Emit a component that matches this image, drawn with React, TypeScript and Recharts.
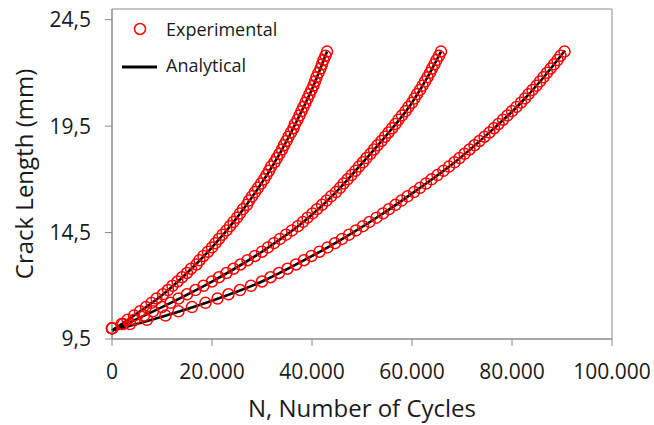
import { ComposedChart, Line, Scatter, XAxis, YAxis, ReferenceArea, Legend } from "recharts";

// measured crack lengths (mm), same increments for the three specimens
const crackExp = [
  10, 10.2, 10.4, 10.6, 10.8, 11, 11.2, 11.4, 11.6, 11.8, 12, 12.2, 12.4, 12.6, 12.8, 13, 13.2, 13.4, 13.6, 13.8,
  14, 14.2, 14.4, 14.6, 14.8, 15, 15.2, 15.4, 15.6, 15.8, 16, 16.2, 16.4, 16.6, 16.8, 17, 17.2, 17.4, 17.6, 17.8,
  18, 18.2, 18.4, 18.6, 18.8, 19, 19.2, 19.4, 19.6, 19.8, 20, 20.2, 20.4, 20.6, 20.8, 21, 21.2, 21.4, 21.6, 21.8,
  22, 22.2, 22.4, 22.6, 22.8, 23,
];

const cyclesExp1 = [
  0, 1900, 3100, 4400, 5600, 6800, 7900, 8900, 10200, 11200, 12100, 13100, 14000, 15000, 15800, 16900, 17500, 18300,
  19200, 20000, 20700, 21400, 22100, 22900, 23600, 24300, 25000, 25600, 26200, 27000, 27400, 28000, 28600, 29200,
  29800, 30400, 30900, 31400, 31800, 32500, 33000, 33500, 34000, 34400, 34900, 35300, 35800, 36300, 36600, 37100,
  37500, 37900, 38300, 38700, 39100, 39500, 39900, 40300, 40600, 40900, 41300, 41700, 42000, 42300, 42700, 43000,
];

const cyclesExp2 = [
  0, 2200, 4500, 6400, 8200, 10000, 11700, 13300, 15000, 16700, 18300, 20000, 21400, 22900, 24300, 25700, 27100, 28600,
  30000, 31200, 32400, 33600, 34800, 36000, 37200, 38200, 39100, 40100, 41000, 42000, 42900, 43800, 44800, 45600,
  46300, 47100, 47900, 48700, 49400, 50200, 50900, 51700, 52400, 53100, 53900, 54600, 55300, 56000, 56700, 57300,
  58000, 58700, 59300, 60000, 60500, 61000, 61600, 62100, 62600, 63100, 63600, 64000, 64500, 64900, 65400, 65800,
];

const cyclesExp3 = [
  0, 3600, 7000, 10700, 13300, 16000, 18700, 21100, 23300, 25600, 27800, 30000, 31700, 33400, 35100, 36800, 38400,
  39900, 41500, 43100, 44600, 46000, 47400, 48800, 50200, 51500, 52900, 54200, 55400, 56700, 57900, 59100, 60400,
  61600, 62800, 63900, 65100, 66300, 67400, 68500, 69500, 70500, 71500, 72500, 73500, 74500, 75500, 76400, 77300,
  78200, 79100, 80000, 80900, 81800, 82600, 83300, 84100, 84900, 85600, 86300, 87000, 87700, 88400, 89100, 89700, 90500,
];

// analytical predictions
const cyclesFit1 = [0, 5000, 10000, 15000, 20000, 25000, 30000, 34000, 37500, 40300, 43000];
const crackFit1 = [9.9, 10.7, 11.55, 12.6, 13.8, 15.2, 16.85, 18.4, 20.0, 21.4, 23.0];

const cyclesFit2 = [0, 10000, 20000, 30000, 37500, 45000, 50000, 55000, 60000, 63000, 65800];
const crackFit2 = [9.9, 11.0, 12.2, 13.6, 14.85, 16.45, 17.75, 19.1, 20.6, 21.75, 23.0];

const cyclesFit3 = [0, 10000, 20000, 30000, 37600, 45000, 53600, 61600, 68300, 75000, 81600, 86000, 90600];
const crackFit3 = [9.9, 10.55, 11.3, 12.2, 13.1, 14.05, 15.3, 16.6, 17.75, 19.1, 20.55, 21.7, 23.05];

const xTicks = [0, 20000, 40000, 60000, 80000, 100000];
const yTicks = [9.5, 14.5, 19.5, 24.5];

const toPoints = (xs: number[], ys: number[]) => xs.map((x, i) => ({ x, y: ys[i] }));

const exp1 = toPoints(cyclesExp1, crackExp);
const exp2 = toPoints(cyclesExp2, crackExp);
const exp3 = toPoints(cyclesExp3, crackExp);
const fit1 = toPoints(cyclesFit1, crackFit1);
const fit2 = toPoints(cyclesFit2, crackFit2);
const fit3 = toPoints(cyclesFit3, crackFit3);

const FONT = "'Open Sans', sans-serif";
const TEXT = "#1a1a1a";
const AXIS = "#8a8a8a";

const ring = (p: any) => <circle cx={p.cx} cy={p.cy} r={5.5} fill="none" stroke="#ff0000" strokeWidth={1.5} />;

const renderLegend = () => (
  <svg width={200} height={80} style={{ display: "block" }}>
    <circle cx={30} cy={19} r={5.5} fill="none" stroke="#ff0000" strokeWidth={1.5} />
    <text x={56} y={26} fontFamily={FONT} fontSize={18} fill={TEXT}>
      Experimental
    </text>
    <line x1={12} x2={47} y1={57} y2={57} stroke="#000" strokeWidth={3} />
    <text x={56} y={62} fontFamily={FONT} fontSize={18} fill={TEXT}>
      Analytical
    </text>
  </svg>
);

const fmtX = (v: number) => (v === 0 ? "0" : `${v / 1000}.000`);
const fmtY = (v: number) => String(v).replace(".", ",");

export default function App() {
  return (
    <div style={{ position: "absolute", left: 0, top: 0, width: 654, height: 425, background: "#fff" }}>
      <ComposedChart width={654} height={425} margin={{ top: 9, right: 42, left: 0, bottom: 0 }}>
        <XAxis
          dataKey="x"
          type="number"
          domain={[0, 100000]}
          ticks={xTicks}
          tickFormatter={fmtX}
          height={86}
          stroke={AXIS}
          tickSize={7}
          tickMargin={18}
          tick={{ fontSize: 21, fill: TEXT, fontFamily: FONT }}
          label={{ value: "N, Number of Cycles", position: "insideBottom", offset: 8, fontSize: 24, fill: TEXT, fontFamily: FONT }}
        />
        <YAxis
          dataKey="y"
          type="number"
          domain={[9.5, 25]}
          ticks={yTicks}
          tickFormatter={fmtY}
          width={112}
          stroke={AXIS}
          tickSize={7}
          tickMargin={14}
          tick={{ fontSize: 21, fill: TEXT, fontFamily: FONT }}
          label={{
            content: () => (
              <text transform="translate(33,174) rotate(-90)" textAnchor="middle" fontSize={24} fill={TEXT} fontFamily={FONT}>
                Crack Length (mm)
              </text>
            ),
          }}
        />
        <ReferenceArea x1={0} x2={100000} y1={9.5} y2={25} fill="none" stroke={AXIS} strokeWidth={1} />
        <Scatter name="Experimental" data={exp1} dataKey="y" shape={ring} isAnimationActive={false} />
        <Scatter data={exp2} dataKey="y" shape={ring} isAnimationActive={false} />
        <Scatter data={exp3} dataKey="y" shape={ring} isAnimationActive={false} />
        <Line data={fit1} dataKey="y" type="monotone" stroke="#000" strokeWidth={2.6} dot={false} isAnimationActive={false} />
        <Line data={fit2} dataKey="y" type="monotone" stroke="#000" strokeWidth={2.6} dot={false} isAnimationActive={false} />
        <Line data={fit3} dataKey="y" type="monotone" stroke="#000" strokeWidth={2.6} dot={false} isAnimationActive={false} />
        <Legend
          layout="horizontal"
          verticalAlign="middle"
          align="center"
          content={renderLegend}
          wrapperStyle={{ left: 110, top: 10, width: 200, height: 80 }}
        />
      </ComposedChart>
    </div>
  );
}
